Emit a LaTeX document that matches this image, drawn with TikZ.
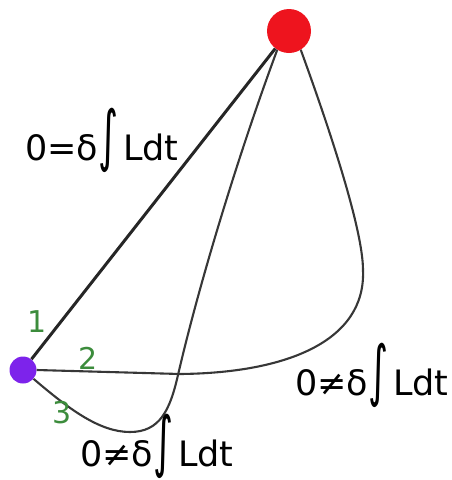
\documentclass[tikz,border=0pt]{standalone}
\usepackage{fontspec}
\usepackage{graphicx}
\setmainfont{DejaVu Sans}
\definecolor{dotred}{RGB}{238,20,30}
\definecolor{dotpurple}{RGB}{125,35,235}
\definecolor{numgreen}{RGB}{60,140,60}
\definecolor{pathgray}{RGB}{55,55,55}
\newcommand{\bigint}{\raisebox{1.5pt}{\scalebox{1.1}[1.9]{∫}}\hspace{5pt}}
\begin{document}
\begin{tikzpicture}[x=1pt,y=-1pt,
  dot/.style={circle,inner sep=0pt,draw=none},
  bigpath/.style={line width=3pt,draw=black!85},
  thinpath/.style={line width=2.1pt,draw=pathgray},
  formula/.style={inner sep=0pt,anchor=base west,font=\fontsize{35}{40}\selectfont},
  num/.style={inner sep=0pt,text=numgreen,font=\fontsize{30}{34}\selectfont}]
\useasboundingbox (0,0) rectangle (452,480);
\node[dot,fill=dotred,minimum size=44pt] (r) at (289,31) {};
\node[dot,fill=dotpurple,minimum size=27pt] (p) at (23,370) {};
\coordinate (a2) at (180,374);
\coordinate (b2) at (363,270);
\coordinate (a3) at (130,432);
\coordinate (b3) at (178,375);
\draw[bigpath] (p) -- (r);
\draw[thinpath] (p.east) -- (a2) .. controls (285,373) and (366,342) .. (b2)
  .. controls (363,230) and (330,130) .. (r.302);
\draw[thinpath] (p.-40) .. controls (70,410) and (100,432) .. (a3)
  .. controls (160,432) and (170,410) .. (b3)
  .. controls (200,280) and (240,150) .. (r.238);
\node[formula] (f1) at (25,160) {0=δ\bigint Ldt};
\node[formula] (f2) at (295,395) {0≠δ\bigint Ldt};
\node[formula] (f3) at (80,466) {0≠δ\bigint Ldt};
\node[num] (n1) at (37,322) {1};
\node[num] (n2) at (88,358) {2};
\node[num] (n3) at (62,413) {3};
\end{tikzpicture}
\end{document}
